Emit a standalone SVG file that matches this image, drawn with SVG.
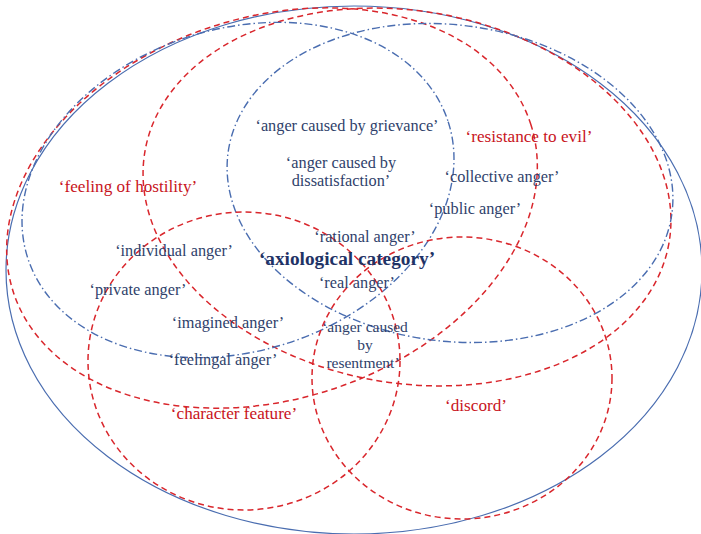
<svg xmlns="http://www.w3.org/2000/svg" width="701" height="534" viewBox="0 0 701 534">
<style>
.solid{fill:none;stroke:#4a6db0;stroke-width:1.2}
.red{fill:none;stroke:#d9262c;stroke-width:1.5;stroke-dasharray:6 4}
.dd{fill:none;stroke:#4a6db0;stroke-width:1.4;stroke-dasharray:8 3 1.5 3}
text{font-family:"Liberation Serif","Times New Roman",serif;font-size:16.3px;text-anchor:middle}
.bt{fill:#2f3f6b}
.sm{font-size:15.5px}
.rt{fill:#c8141c;font-size:17.2px}
.big{font-size:19.3px;font-weight:bold;fill:#1f3366}
</style>
<rect width="701" height="534" fill="#ffffff"/>
<g id="outer"><ellipse class="solid" cx="354" cy="270" rx="348" ry="264"/></g>
<g id="hostility">
<ellipse class="red" cx="272" cy="208" rx="272" ry="191" transform="rotate(-18 272 208)"/>
<text class="rt" x="128" y="192">‘feeling of hostility’</text>
</g>
<g id="resistance">
<ellipse class="red" cx="407" cy="197" rx="266" ry="186" transform="rotate(10 407 197)"/>
<text class="rt" x="529" y="142">‘resistance to evil’</text>
</g>
<g id="individual">
<ellipse class="dd" cx="238" cy="190" rx="221" ry="161" transform="rotate(-18 238 190)"/>
</g>
<g id="collective">
<ellipse class="dd" cx="450" cy="183" rx="224" ry="158" transform="rotate(8 450 183)"/>
</g>
<g id="character">
<ellipse class="red" cx="244" cy="361" rx="156" ry="149"/>
<text class="rt" x="234" y="419">‘character feature’</text>
</g>
<g id="discord">
<ellipse class="red" cx="462" cy="378" rx="150" ry="141"/>
<text class="rt" x="476" y="411">‘discord’</text>
</g>
<g id="labels">
<text class="bt" x="347" y="131">‘anger caused by grievance’</text>
<text class="bt" x="341" y="168">‘anger caused by</text>
<text class="bt" x="341" y="186">dissatisfaction’</text>
<text class="bt" x="502" y="182">‘collective anger’</text>
<text class="bt" x="475" y="214">‘public anger’</text>
<text class="bt" x="365" y="242">‘rational anger’</text>
<text class="big" x="347" y="265">‘axiological category’</text>
<text class="bt" x="357" y="288">‘real anger’</text>
<text class="bt" x="174" y="256">‘individual anger’</text>
<text class="bt" x="138" y="295">‘private anger’</text>
<text class="bt" x="228" y="328">‘imagined anger’</text>
<text class="bt" x="223" y="365">‘feelingal anger’</text>
<text class="bt sm" x="365" y="332">‘anger caused</text>
<text class="bt sm" x="365" y="350">by</text>
<text class="bt sm" x="363" y="368">resentment’</text>
</g>
</svg>
